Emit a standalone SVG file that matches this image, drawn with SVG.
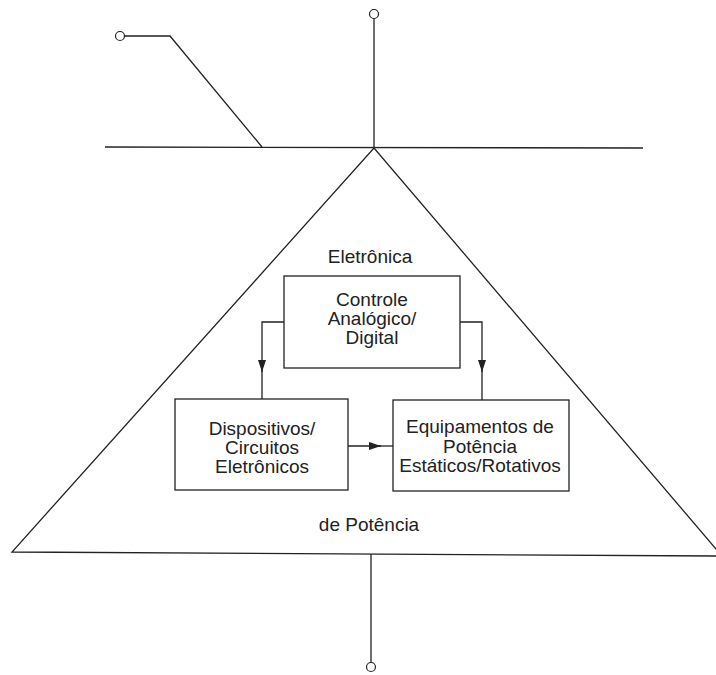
<svg xmlns="http://www.w3.org/2000/svg" width="716" height="675" viewBox="0 0 716 675">
<defs>
<style>
.ln{fill:none;stroke:#222;stroke-width:1.3}
.box{fill:#fff;stroke:#222;stroke-width:1.3}
.t{font-family:"Liberation Sans",Arial,sans-serif;font-size:19px;fill:#222;text-anchor:middle}
.term{fill:#fff;stroke:#222;stroke-width:1.2}
</style>
<marker id="ah" viewBox="0 0 12 8" refX="12" refY="4" markerWidth="12" markerHeight="8" markerUnits="userSpaceOnUse" orient="auto">
<path d="M0,0 L12,4 L0,8 Z" fill="#222"/>
</marker>
</defs>
<rect width="716" height="675" fill="#fff"/>
<g id="frame">
<line class="ln" x1="105" y1="147" x2="643" y2="148"/>
<polyline class="ln" points="124,36 170,36 262,147"/>
<line class="ln" x1="374" y1="18" x2="374" y2="148"/>
<circle class="term" cx="120" cy="36" r="4.5"/>
<circle class="term" cx="374" cy="14" r="4.5"/>
<polyline class="ln" points="722,556 374,148 12,552 716,556"/>
<line class="ln" x1="371" y1="554" x2="371" y2="663"/>
<circle class="term" cx="371" cy="667" r="4.5"/>
<text class="t" x="370" y="263">Eletrônica</text>
<text class="t" x="369" y="531">de Potência</text>
</g>
<g id="connectors">
<path class="ln" d="M284,322 H262 V372" marker-end="url(#ah)"/>
<line class="ln" x1="262" y1="370" x2="262" y2="399"/>
<path class="ln" d="M460,322 H482 V372" marker-end="url(#ah)"/>
<line class="ln" x1="482" y1="370" x2="482" y2="400"/>
<path class="ln" d="M348,446 H381" marker-end="url(#ah)"/>
<line class="ln" x1="379" y1="446" x2="393" y2="446"/>
</g>
<g id="controle">
<rect class="box" x="284" y="276" width="176" height="92"/>
<text class="t" x="372" y="306">Controle</text>
<text class="t" x="372" y="325">Analógico/</text>
<text class="t" x="372" y="344">Digital</text>
</g>
<g id="dispositivos">
<rect class="box" x="175" y="399" width="173" height="91"/>
<text class="t" x="262" y="435">Dispositivos/</text>
<text class="t" x="262" y="454">Circuitos</text>
<text class="t" x="262" y="473">Eletrônicos</text>
</g>
<g id="equipamentos">
<rect class="box" x="393" y="400" width="176" height="91"/>
<text class="t" x="480" y="433">Equipamentos de</text>
<text class="t" x="480" y="453">Potência</text>
<text class="t" x="480" y="472">Estáticos/Rotativos</text>
</g>
</svg>
